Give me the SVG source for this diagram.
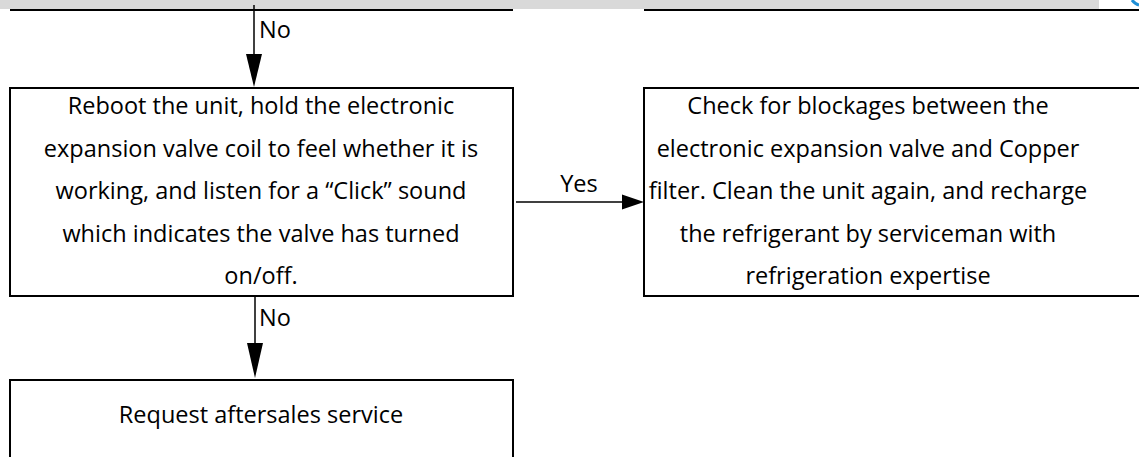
<svg xmlns="http://www.w3.org/2000/svg" width="1139" height="457" viewBox="0 0 1139 457">
<style>
.box{fill:#fff;stroke:#000;stroke-width:2}
.edge{stroke:#000;stroke-width:1.5;fill:none}
.head{fill:#000}
text{font-family:"Open Sans","Liberation Sans",sans-serif;font-size:23.5px;fill:#000}
.c{text-anchor:middle}
</style>
<rect x="0" y="0" width="1139" height="457" fill="#fff"/>
<rect x="0" y="0" width="1099" height="9" fill="#d9d9d9"/>
<path d="M1132,0 Q1135,4 1139,5" stroke="#1f8fd6" stroke-width="3" fill="none"/>
<g id="prev-left"><line x1="10" y1="10" x2="513" y2="10" stroke="#000" stroke-width="2"/></g>
<g id="prev-right"><line x1="644" y1="10" x2="1139" y2="10" stroke="#000" stroke-width="2"/></g>
<g id="reboot">
<rect class="box" x="10" y="88" width="503" height="208"/>
<text class="c" x="261" y="114">Reboot the unit, hold the electronic</text>
<text class="c" x="261" y="156.5">expansion valve coil to feel whether it is</text>
<text class="c" x="261" y="199">working, and listen for a “Click” sound</text>
<text class="c" x="261" y="241.5">which indicates the valve has turned</text>
<text class="c" x="261" y="284">on/off.</text>
</g>
<g id="check">
<rect class="box" x="644" y="88" width="520" height="208"/>
<text class="c" x="868" y="114">Check for blockages between the</text>
<text class="c" x="868" y="156.5">electronic expansion valve and Copper</text>
<text class="c" x="868" y="199">filter. Clean the unit again, and recharge</text>
<text class="c" x="868" y="241.5">the refrigerant by serviceman with</text>
<text class="c" x="868" y="284">refrigeration expertise</text>
</g>
<g id="aftersales">
<rect class="box" x="10" y="380" width="503" height="100"/>
<text class="c" x="261" y="423">Request aftersales service</text>
</g>
<g id="connectors">
<line class="edge" x1="254" y1="5" x2="254" y2="56"/>
<polygon class="head" points="246,54 262,54 254,87"/>
<text x="259" y="38">No</text>
<line class="edge" x1="255" y1="296" x2="255" y2="345"/>
<polygon class="head" points="247,343 263,343 255,378"/>
<text x="259" y="326">No</text>
<line class="edge" x1="516" y1="202" x2="624" y2="202"/>
<polygon class="head" points="622,194.5 622,209.5 644,202"/>
<text class="c" x="579" y="192">Yes</text>
</g>
</svg>
